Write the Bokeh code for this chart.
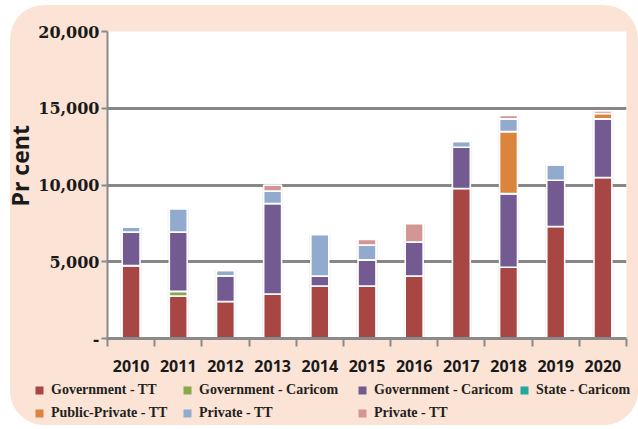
from bokeh.plotting import figure
from bokeh.layouts import column, row
from bokeh.models import (ColumnDataSource, Range1d, FixedTicker, Legend, LegendItem,
                          NumeralTickFormatter, Title)
from bokeh.embed import file_html
from bokeh.resources import INLINE

years = ["2010", "2011", "2012", "2013", "2014", "2015", "2016", "2017", "2018", "2019", "2020"]
gov_tt = [4750, 2760, 2410, 2890, 3420, 3420, 4070, 9770, 4640, 7300, 10490]
gov_caricom_a = [0, 310, 0, 0, 0, 0, 0, 0, 0, 0, 0]
gov_caricom_b = [2180, 3860, 1680, 5900, 650, 1700, 2210, 2690, 4800, 3010, 3820]
state_caricom = [0, 0, 0, 0, 0, 0, 0, 0, 0, 0, 0]
public_private_tt = [0, 0, 0, 0, 0, 0, 0, 0, 4040, 0, 350]
private_tt_a = [330, 1530, 350, 820, 2710, 960, 0, 370, 830, 990, 0]
private_tt_b = [0, 0, 0, 380, 0, 370, 1200, 0, 220, 0, 170]

series_keys = ["gov_tt", "gov_caricom_a", "gov_caricom_b", "state_caricom",
               "public_private_tt", "private_tt_a", "private_tt_b"]
series_labels = ["Government - TT", "Government - Caricom", "Government - Caricom",
                 "State - Caricom", "Public-Private - TT", "Private - TT", "Private - TT"]
series_colors = ["#A84644", "#8AA74E", "#735A91", "#1FA99B", "#DB843D", "#93AACF", "#D29694"]
y_ticks = [0, 5000, 10000, 15000, 20000]

values = [gov_tt, gov_caricom_a, gov_caricom_b, state_caricom,
          public_private_tt, private_tt_a, private_tt_b]
xs = list(range(len(years)))
totals = [sum(col) for col in zip(*values)]
data = dict(x=xs, total=totals)
for k, v in zip(series_keys, values):
    data[k] = v
src = ColumnDataSource(data)

p = figure(width=638, height=378, output_backend="svg", toolbar_location=None,
           x_range=Range1d(-0.5, len(years) - 0.5), y_range=Range1d(0, 20000),
           min_border_left=107, min_border_right=12, min_border_top=31, min_border_bottom=40,
           background_fill_color="white", border_fill_color=None, outline_line_color=None)

# grid
p.xgrid.visible = False
p.ygrid.ticker = FixedTicker(ticks=y_ticks[1:])
p.ygrid.grid_line_color = "#878787"
p.ygrid.grid_line_width = 3

# soft shadow behind bars
p.vbar(x="x", top="total", bottom=0, width=0.46, source=src,
       fill_color="#000000", fill_alpha=0.05, line_color=None)

rs = p.vbar_stack(series_keys, x="x", width=0.38, source=src,
                  fill_color=series_colors, line_color="white", line_width=1.6)

# y axis
ya = p.yaxis[0]
ya.ticker = FixedTicker(ticks=y_ticks)
ya.formatter = NumeralTickFormatter(format="0,0")
ya.major_label_overrides = {0: "-"}
ya.major_label_text_font = "DejaVu Serif"
ya.major_label_text_font_style = "bold"
ya.major_label_text_font_size = "16px"
ya.major_label_text_color = "#1a1a1a"
ya.major_label_standoff = 2
ya.axis_line_color = "#8a8a8a"
ya.axis_line_width = 2
ya.major_tick_line_color = "#8a8a8a"
ya.major_tick_line_width = 2
ya.major_tick_out = 6
ya.major_tick_in = 0
ya.minor_tick_line_color = None

ytitle = Title(text="Pr cent", align="left", offset=132,
               text_font="Open Sans", text_font_style="bold",
               text_font_size="23px", text_color="#1a1a1a", standoff=0)
p.add_layout(ytitle, "left")

# x axis
xa = p.xaxis[0]
xa.ticker = FixedTicker(ticks=xs, minor_ticks=[i - 0.5 for i in range(len(years) + 1)])
xa.major_label_overrides = {i: y for i, y in zip(xs, years)}
xa.major_label_text_font = "Open Sans"
xa.major_label_text_font_style = "bold"
xa.major_label_text_font_size = "16px"
xa.major_label_text_color = "#1a1a1a"
xa.major_label_standoff = 13
xa.major_tick_out = 0
xa.major_tick_in = 0
xa.minor_tick_out = 8
xa.minor_tick_in = 0
xa.minor_tick_line_color = "#8a8a8a"
xa.minor_tick_line_width = 2
xa.axis_line_color = "#8a8a8a"
xa.axis_line_width = 3

# legend panel (separate figure; its swatch renderers lie far outside its visible range)
LEG_H = 51
pl = figure(width=638, height=LEG_H, output_backend="svg", toolbar_location=None,
            x_range=Range1d(500, 501), y_range=Range1d(-200000, -199999),
            x_axis_location=None, y_axis_location=None, min_border=0,
            background_fill_color=None, border_fill_color=None, outline_line_color=None)
pl.xgrid.visible = False
pl.ygrid.visible = False
swatches = pl.vbar_stack(series_keys, x="x", width=0.38, source=src,
                         fill_color=series_colors, line_color=None)

cols = [[0, 4], [1, 5], [2, 6], [3]]
col_x = [34, 182, 357, 519]
for idxs, cx in zip(cols, col_x):
    items = [LegendItem(label=series_labels[i], renderers=[swatches[i]]) for i in idxs]
    n = len(idxs)
    h = 20 * n + 3 * (n - 1)
    top = 2
    leg = Legend(items=items, location=(cx, LEG_H - top - h),
                 orientation="vertical", padding=0, margin=0, spacing=3,
                 glyph_width=10, glyph_height=10, label_height=20, label_standoff=7,
                 label_text_font="Liberation Sans Narrow", label_text_font_style="bold",
                 label_text_font_size="14px", label_text_color="#231F20",
                 background_fill_alpha=0, border_line_color=None)
    pl.add_layout(leg)

layout = column(p, row(pl), spacing=0)
layout.styles = {"background-color": "#FBE3D6",
                 "clip-path": "inset(5px 0px 4px 10px round 34px)"}

open("out.html", "w").write(file_html(layout, INLINE))
